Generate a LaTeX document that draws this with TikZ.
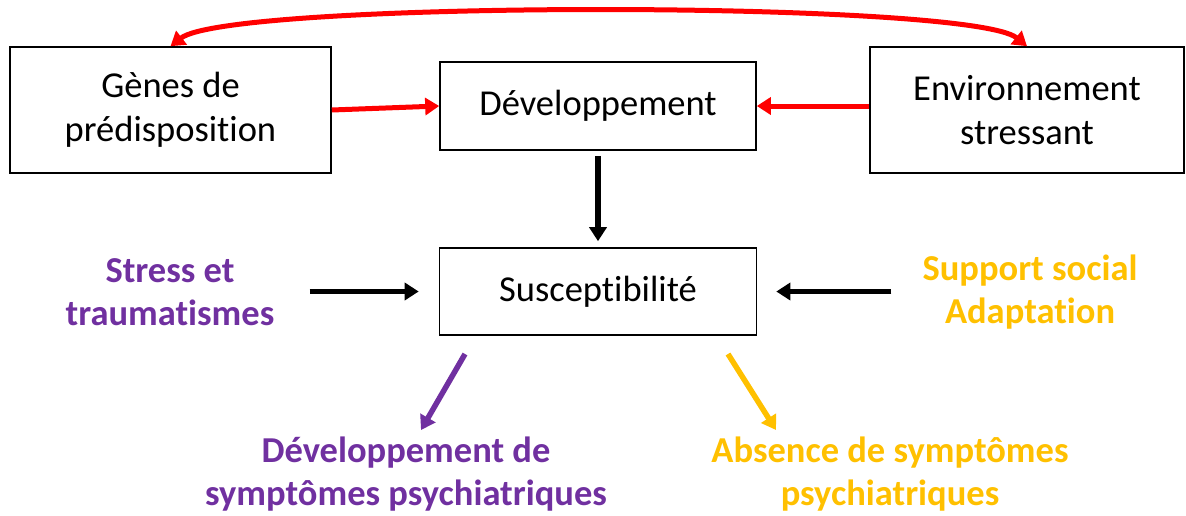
\documentclass[tikz,border=0pt]{standalone}
\usepackage{fontspec}
\setmainfont{Carlito}[Ligatures=NoCommon]
\usetikzlibrary{arrows.meta}
\definecolor{myred}{HTML}{FF0000}
\definecolor{mypurple}{HTML}{7030A0}
\definecolor{myyellow}{HTML}{FFC000}
\tikzset{
  box/.style={draw=black, line width=1.6pt, fill=white, align=center, inner sep=0pt,
    font=\fontsize{36.5}{43.5}\selectfont},
  lbl/.style={align=center, inner sep=0pt, font=\fontsize{36.5}{43.5}\selectfont\bfseries},
  conn/.style={line width=5pt, -{Triangle[width=17pt,length=14pt]}},
  dconn/.style={line width=5pt, {Triangle[width=17pt,length=14pt]}-{Triangle[width=17pt,length=14pt]}}
}
\begin{document}
\begin{tikzpicture}[x=1pt,y=-1pt]
\useasboundingbox (0,0) rectangle (1186,515);
\node[box, minimum width=321pt, minimum height=126pt] (gen) at (170.5,110) {Gènes de\\prédisposition};
\node[box, minimum width=316pt, minimum height=88pt] (dev) at (598,106) {Développement};
\node[box, minimum width=314pt, minimum height=126pt] (env) at (1027,110) {Environnement\\stressant};
\node[box, minimum width=317pt, minimum height=87pt] (sus) at (598,291.5) {Susceptibilité};
\node[lbl, text=mypurple] (stress) at (170,292) {Stress et\\traumatismes};
\node[lbl, text=myyellow] (support) at (1030,292) {Support social\\Adaptation};
\node[lbl, text=mypurple] (dsym) at (406,474) {Développement de\\symptômes psychiatriques};
\node[lbl, text=myyellow] (asym) at (890,474) {Absence de symptômes\\psychiatriques};
\coordinate (p1) at (465,354);
\coordinate (p2) at (421,430);
\coordinate (y1) at (728,354);
\coordinate (y2) at (776,430);
\draw[conn, myred] (gen.east) -- (dev.west);
\draw[conn, myred] (env.west |- dev) -- (dev.east);
\draw[dconn, myred] (gen.north) .. controls (230,0) and (970,0) .. (env.north);
\draw[conn, black, line width=5.5pt, shorten <=5pt, shorten >=6pt] (dev.south) -- (sus.north);
\draw[conn, black, shorten <=35pt, shorten >=20pt] (stress.east |- sus) -- (sus.west);
\draw[conn, black, shorten <=31pt, shorten >=19pt] (support.west |- sus) -- (sus.east);
\draw[conn, mypurple, line width=5.5pt] (p1) -- (p2);
\draw[conn, myyellow, line width=5.5pt] (y1) -- (y2);
\end{tikzpicture}
\end{document}
